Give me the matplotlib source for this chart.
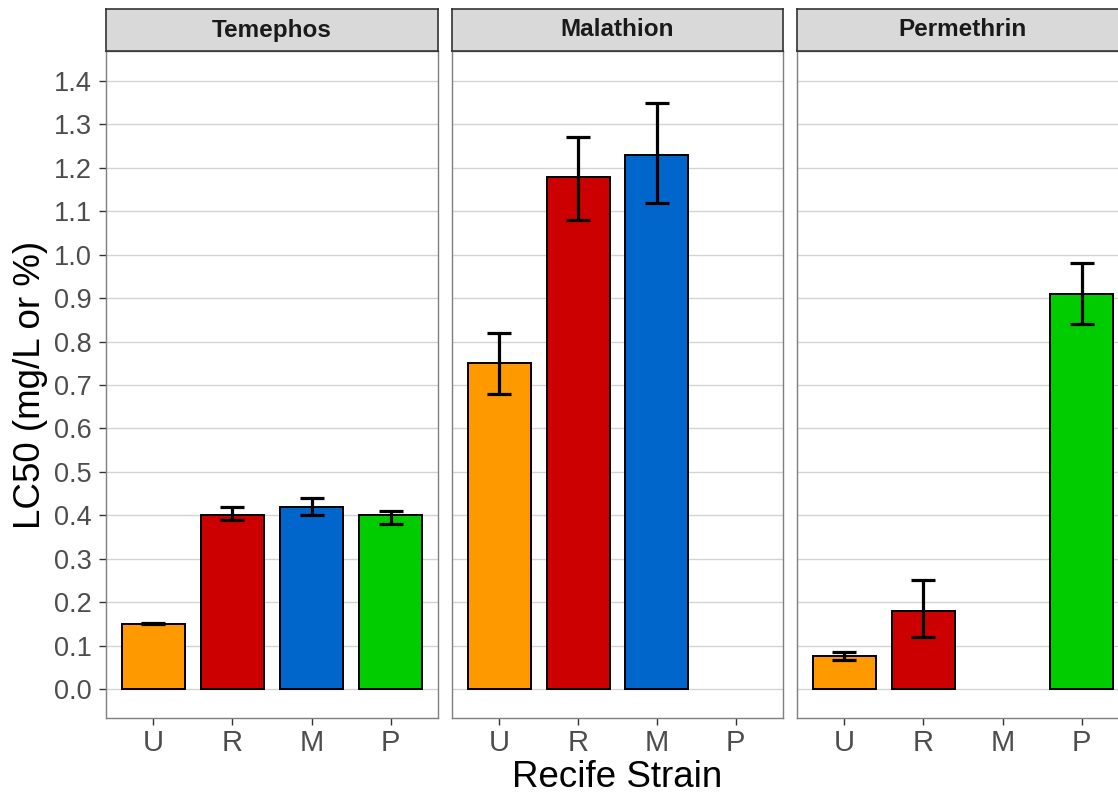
import numpy as np
import matplotlib.pyplot as plt

plt.rcParams['font.family'] = ['Liberation Sans', 'DejaVu Sans']

strains = ["U", "R", "M", "P"]
colors = ["#FF9900", "#CC0000", "#0066CC", "#00CC00"]
insecticides = ["Temephos", "Malathion", "Permethrin"]

# LC50 with lower / upper confidence limits (nan = not tested)
lc50 = {
    "Temephos":   [0.15, 0.40, 0.42, 0.40],
    "Malathion":  [0.75, 1.18, 1.23, np.nan],
    "Permethrin": [0.075, 0.18, np.nan, 0.91],
}
lower = {
    "Temephos":   [0.149, 0.39, 0.40, 0.38],
    "Malathion":  [0.68, 1.08, 1.12, np.nan],
    "Permethrin": [0.067, 0.12, np.nan, 0.84],
}
upper = {
    "Temephos":   [0.151, 0.42, 0.44, 0.41],
    "Malathion":  [0.82, 1.27, 1.35, np.nan],
    "Permethrin": [0.086, 0.25, np.nan, 0.98],
}

W, H = 1118, 794
fig = plt.figure(figsize=(W / 100, H / 100), dpi=100)

# last panel runs past the right edge of the figure
panels = [(106, 438), (452, 783), (797, 1129)]
top, bottom, strip_top = 51, 718, 9
yticks = np.round(np.arange(0, 1.41, 0.1), 1)

for i, (name, (x0, x1)) in enumerate(zip(insecticides, panels)):
    ax = fig.add_axes([x0 / W, 1 - bottom / H, (x1 - x0) / W, (bottom - top) / H])
    x = np.arange(1, 5)
    vals = np.array(lc50[name])
    lo = np.array(lower[name])
    hi = np.array(upper[name])
    ok = ~np.isnan(vals)
    ax.bar(x[ok], vals[ok], width=0.8, color=np.array(colors)[ok],
           edgecolor="black", linewidth=1.4, zorder=3)
    ax.errorbar(x[ok], vals[ok], yerr=[vals[ok] - lo[ok], hi[ok] - vals[ok]],
                fmt="none", ecolor="black", elinewidth=2.3, capsize=8.3,
                capthick=2.3, zorder=4)
    ax.set_xlim(0.4, 4.6)
    ax.set_ylim(-0.0668, 1.469)
    ax.set_xticks(x)
    ax.set_xticklabels(strains)
    ax.set_yticks(yticks)
    ax.grid(axis="y", color="#D3D3D3", linewidth=1, zorder=0)
    ax.set_axisbelow(True)
    for s in ax.spines.values():
        s.set_color("#7F7F7F")
        s.set_linewidth(1)
    ax.tick_params(axis="both", colors="#333333", labelcolor="#4D4D4D",
                   length=5, width=1)
    ax.tick_params(axis="x", labelsize=21, pad=3)
    ax.tick_params(axis="y", labelsize=19.5, pad=5)
    if i == 0:
        ax.set_yticklabels([f"{v:.1f}" for v in yticks])
        ax.set_ylabel("LC50 (mg/L or %)", fontsize=26.5, labelpad=4)
    else:
        ax.tick_params(axis="y", left=False, labelleft=False)
    if i == 1:
        ax.set_xlabel("Recife Strain", fontsize=26.5, labelpad=2)

    # facet strip
    sax = fig.add_axes([x0 / W, 1 - top / H, (x1 - x0) / W, (top - strip_top) / H])
    sax.set_facecolor("#D9D9D9")
    sax.set_xticks([])
    sax.set_yticks([])
    for s in sax.spines.values():
        s.set_color("#333333")
        s.set_linewidth(1.2)
    sax.text(0.5, 0.5, name, ha="center", va="center", fontsize=17.5,
             fontweight="bold", color="#1A1A1A", transform=sax.transAxes)

fig.savefig("out.png", dpi=100)
